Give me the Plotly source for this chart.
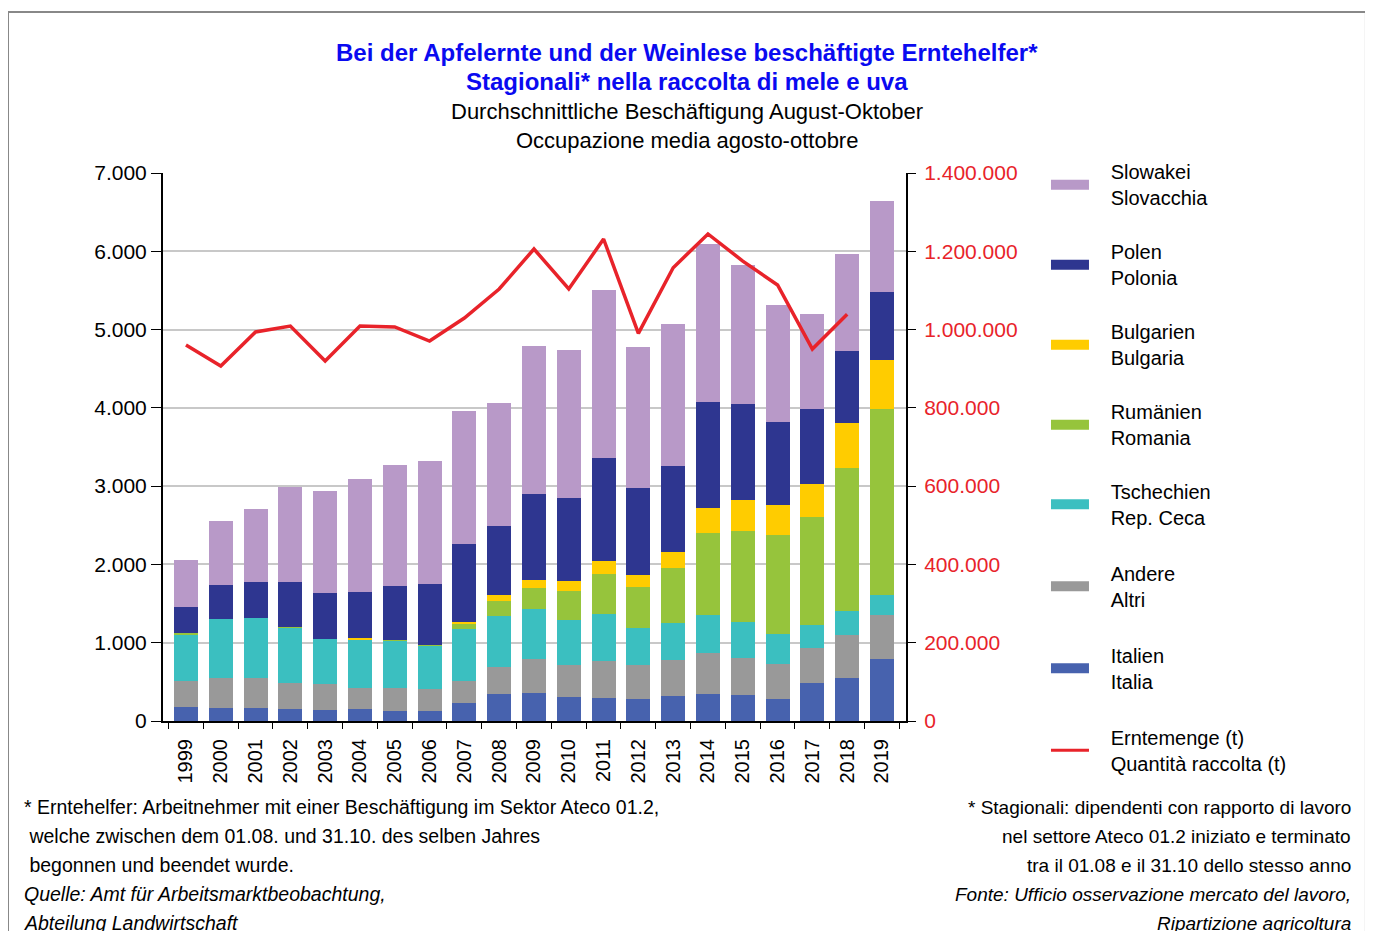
import pandas as pd
import plotly.express as px
import plotly.graph_objects as go


years = ["1999", "2000", "2001", "2002", "2003", "2004", "2005", "2006", "2007", "2008", "2009",
         "2010", "2011", "2012", "2013", "2014", "2015", "2016", "2017", "2018", "2019"]
italia = [183, 170, 170, 153, 140, 153, 128, 128, 230, 345, 358, 311, 298, 285, 324, 349, 336, 285, 489, 553, 792]
andere = [328, 383, 383, 332, 337, 273, 298, 281, 281, 345, 434, 404, 468, 430, 459, 520, 473, 447, 447, 545, 562]
tschechien = [600, 750, 763, 707, 570, 621, 600, 553, 664, 651, 638, 579, 605, 477, 469, 485, 460, 383, 290, 307, 255]
rumaenien = [14, 0, 0, 10, 0, 0, 14, 13, 64, 192, 269, 367, 511, 520, 702, 1047, 1158, 1265, 1384, 1831, 2381]
bulgarien = [0, 0, 0, 0, 0, 13, 0, 0, 26, 76, 102, 127, 162, 153, 205, 324, 400, 383, 421, 575, 625]
polen = [331, 434, 459, 575, 588, 588, 684, 775, 996, 881, 1098, 1064, 1315, 1111, 1098, 1350, 1226, 1056, 954, 915, 869]
slowakei = [604, 818, 933, 1214, 1303, 1443, 1546, 1571, 1699, 1572, 1891, 1887, 2146, 1801, 1814, 2018, 1772, 1495,
            1214, 1239, 1158]
erntemenge = [960600, 907000, 993800, 1009000, 919700, 1009000, 1006600, 970800, 1029600, 1103600, 1205800,
              1103600, 1231400, 990400, 1158100, 1244200, 1175000, 1113900, 950400, 1039000, None]

series_de = ["Italien", "Andere", "Tschechien", "Rumänien", "Bulgarien", "Polen", "Slowakei"]
series_it = ["Italia", "Altri", "Rep. Ceca", "Romania", "Bulgaria", "Polonia", "Slovacchia"]
series_values = [italia, andere, tschechien, rumaenien, bulgarien, polen, slowakei]
series_colors = ["#4762AE", "#999999", "#3BBFC0", "#96C43C", "#FFCC00", "#2E3690", "#B899C8"]
line_de, line_it = "Erntemenge (t)", "Quantità raccolta (t)"

title_lines = ["<b>Bei der Apfelernte und der Weinlese beschäftigte Erntehelfer*</b>",
               "<b>Stagionali* nella raccolta di mele e uva</b>",
               "Durchschnittliche Beschäftigung August-Oktober",
               "Occupazione media agosto-ottobre"]
left_notes = ["* Erntehelfer: Arbeitnehmer mit einer Beschäftigung im Sektor Ateco 01.2,",
              " welche zwischen dem 01.08. und 31.10. des selben Jahres",
              " begonnen und beendet wurde.",
              "<i>Quelle: Amt für Arbeitsmarktbeobachtung,</i>",
              "<i>Abteilung Landwirtschaft</i>"]
right_notes = ["* Stagionali: dipendenti con rapporto di lavoro",
               "nel settore Ateco 01.2 iniziato e terminato",
               "tra il 01.08 e il 31.10 dello stesso anno",
               "<i>Fonte: Ufficio osservazione mercato del lavoro,</i>",
               "<i>Ripartizione agricoltura</i>"]

FONT = "Liberation Sans, Arial, sans-serif"
PAD = "\u00a0\u00a0\u00a0"  # gap between swatch and legend text


def legend_label(de, it):
    """Two-line legend label, German above Italian."""
    return f"{PAD}{de}<br>{PAD}{it}"


def build_frame():
    """Builds a long table of workers per year and country."""
    rows = []
    for de, values in zip(series_de, series_values):
        for year, value in zip(years, values):
            rows.append({"Jahr": year, "Land": de, "Anzahl": value})
    return pd.DataFrame(rows)


def create_stacked_bars(df):
    """Generates the stacked bar chart of seasonal workers."""
    fig = px.bar(
        df,
        x="Jahr",
        y="Anzahl",
        color="Land",
        color_discrete_map=dict(zip(series_de, series_colors)),
        category_orders={"Land": series_de, "Jahr": years},
        template="none",
    )
    fig.update_traces(showlegend=False, marker_line_width=0)
    return fig


def add_harvest_line(fig):
    """Adds the harvest quantity on the secondary axis."""
    fig.add_scatter(x=years, y=erntemenge, yaxis="y2", mode="lines", name=line_de,
                    line=dict(color="#E8232A", width=3.5), showlegend=False)
    return fig


def add_legend_entries(fig):
    """Adds legend-only entries, top to bottom as in the stack, split over two legends."""
    entries = list(zip(series_de[::-1], series_it[::-1], series_colors[::-1], [12] * 7))
    entries.append((line_de, line_it, "#E8232A", 3))
    for i, (de, it, color, width) in enumerate(entries):
        fig.add_scatter(x=[None], y=[None], mode="lines", name=legend_label(de, it), legendgroup=de,
                        legend="legend" if i < 4 else "legend2", line=dict(color=color, width=width))
    return fig


def add_texts(fig):
    """Writes the title block and the footnotes."""
    for text, shift, size, color in zip(title_lines, [121, 92, 62, 33], [24, 24, 22, 22],
                                        ["#0A0AF0", "#0A0AF0", "black", "black"]):
        fig.add_annotation(text=text, xref="paper", yref="paper", x=0.7053, y=1, xanchor="center",
                           yanchor="middle", yshift=shift, showarrow=False, font=dict(size=size, color=color))
    for i, text in enumerate(left_notes):
        fig.add_annotation(text=text, xref="paper", yref="paper", x=0, y=0, xanchor="left", yanchor="middle",
                           xshift=-141, yshift=-86 - 29 * i, showarrow=False, font=dict(size=19.5, color="black"))
    for i, text in enumerate(right_notes):
        fig.add_annotation(text=text, xref="paper", yref="paper", x=1, y=0, xanchor="right", yanchor="middle",
                           xshift=447, yshift=-86 - 29 * i, showarrow=False, font=dict(size=19, color="black"))
    return fig


fig = create_stacked_bars(build_frame())
fig = add_harvest_line(fig)
fig = add_legend_entries(fig)
fig = add_texts(fig)

legend_style = dict(xanchor="left", yanchor="top", itemwidth=38, title_text="",
                    font=dict(family=FONT, size=20, color="black"), itemclick=False, itemdoubleclick=False)

fig.update_layout(
    width=1365,
    height=923,
    margin=dict(l=155, r=467, t=165, b=210),
    barmode="stack",
    bargap=0.31,
    separators=",.",
    font=dict(family=FONT, size=21, color="black"),
    paper_bgcolor="white",
    plot_bgcolor="white",
    xaxis=dict(
        type="category", categoryorder="array", categoryarray=years,
        range=[-0.66, 20.69], tickangle=-90, tickfont=dict(size=20), ticklabelstandoff=8,
        ticks="outside", tickson="boundaries", ticklen=6, tickcolor="black",
        showline=True, linecolor="black", linewidth=2, showgrid=False, title=None,
    ),
    yaxis=dict(
        range=[0, 7000], dtick=1000, tickformat=",d", ticks="outside", ticklen=10, tickcolor="black",
        showline=True, linecolor="black", linewidth=2, gridcolor="#C8C8C8", gridwidth=2,
        zeroline=False, title=None,
    ),
    yaxis2=dict(
        overlaying="y", side="right", range=[0, 1400000], dtick=200000, tickformat=",d",
        ticks="outside", ticklen=8, tickcolor="black", tickfont=dict(color="#E8232A"), ticklabelstandoff=4,
        showline=True, linecolor="black", linewidth=2, showgrid=False, zeroline=False,
    ),
    legend=dict(x=1.1884, y=1.038, tracegroupgap=25, **legend_style),
    legend2=dict(x=1.1884, y=0.455, tracegroupgap=27, **legend_style),
    shapes=[dict(type="rect", xref="paper", yref="paper", x0=-0.2086, x1=1.619, y0=-0.45, y1=1.2938,
                 line=dict(color="#888888", width=2), fillcolor="rgba(0,0,0,0)", layer="below")],
)

fig.write_html("out.html")
